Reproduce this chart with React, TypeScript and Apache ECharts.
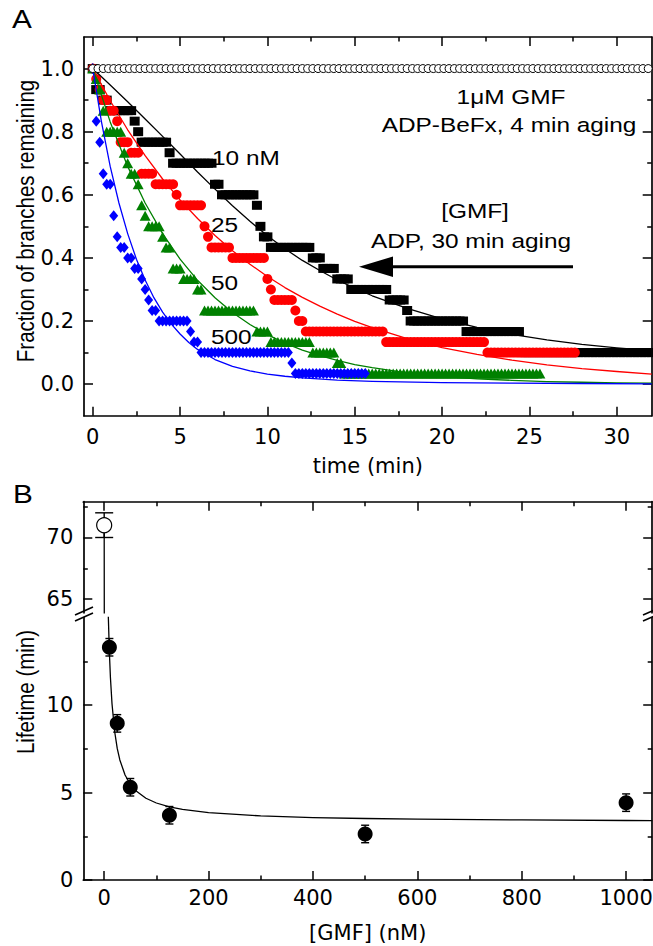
import React, { useEffect, useRef } from "react";
import * as echarts from "echarts";

// ---------------- Panel A data ----------------
const N_BRANCHES = 30;
const FRAME_MIN = 0.2; // GMF series frame interval (min)
const FRAME_MIN_BEFX = 0.3; // ADP-BeFx series frame interval (min)

// run-length lists: [branches remaining (of 30), number of consecutive frames]
const befx1uMRuns: number[][] = [[30, 107]];
const gmf10Runs: number[][] = [
  [30, 1], [28, 2], [27, 2], [26, 7], [25, 1], [24, 1], [23, 8], [22, 1], [21, 12],
  [19, 2], [18, 10], [17, 1], [15, 1], [14, 2], [13, 12], [12, 3], [11, 4], [10, 4],
  [9, 11], [8, 5], [7, 1], [6, 16], [5, 16], [3, 38],
];
const gmf25Runs: number[][] = [
  [30, 1], [29, 1], [28, 1], [27, 2], [26, 2], [25, 1], [23, 3], [22, 3], [20, 4],
  [19, 6], [18, 1], [17, 7], [15, 1], [14, 1], [13, 6], [12, 10], [10, 1], [9, 1],
  [8, 6], [7, 1], [6, 2], [5, 23], [4, 29], [3, 26],
];
const gmf50Runs: number[][] = [
  [30, 1], [29, 1], [28, 1], [26, 1], [24, 5], [22, 1], [21, 1], [20, 2], [19, 1],
  [17, 1], [16, 1], [15, 4], [14, 1], [13, 2], [11, 3], [10, 4], [9, 2], [7, 15],
  [5, 4], [4, 12], [3, 7], [2, 2], [1, 57],
];
const gmf500Runs: number[][] = [
  [30, 1], [25, 1], [23, 1], [20, 1], [19, 2], [16, 1], [14, 1], [13, 2], [12, 2],
  [11, 2], [10, 1], [9, 1], [8, 1], [7, 2], [6, 9], [5, 1], [4, 2], [3, 26], [2, 1], [1, 21],
];

// fitted curves
const fitTime10 = [0, 1, 2, 3, 4, 5, 6, 7, 8, 9, 10, 11, 12, 13, 14, 15, 16, 18, 20, 22, 24, 26, 28, 30, 32];
const fitFrac10 = [1.0, 0.948, 0.895, 0.84, 0.785, 0.729, 0.672, 0.618, 0.565, 0.516, 0.47, 0.429, 0.392, 0.36, 0.33, 0.304, 0.28, 0.24, 0.207, 0.18, 0.158, 0.14, 0.126, 0.115, 0.106];
const fitTime25 = [0, 1, 2, 3, 4, 5, 6, 7, 8, 9, 10, 11, 12, 13, 14, 15, 16, 18, 20, 22, 24, 26, 28, 30, 32];
const fitFrac25 = [1.0, 0.898, 0.806, 0.724, 0.65, 0.584, 0.525, 0.471, 0.423, 0.38, 0.341, 0.306, 0.275, 0.247, 0.222, 0.199, 0.179, 0.144, 0.116, 0.094, 0.076, 0.061, 0.049, 0.04, 0.032];
const fitTime50 = [0, 1, 2, 3, 4, 5, 6, 7, 8, 9, 10, 11, 12, 13, 14, 15, 16, 18, 20, 22, 24, 26, 28, 30, 32];
const fitFrac50 = [1.0, 0.831, 0.69, 0.574, 0.477, 0.396, 0.329, 0.274, 0.227, 0.189, 0.157, 0.13, 0.108, 0.09, 0.075, 0.062, 0.052, 0.036, 0.025, 0.017, 0.012, 0.008, 0.006, 0.004, 0.003];
const fitTime500 = [0, 0.5, 1, 1.5, 2, 2.5, 3, 3.5, 4, 4.5, 5, 5.5, 6, 7, 8, 9, 10, 11, 12, 14, 16, 20, 24, 28, 32];
const fitFrac500 = [1.0, 0.831, 0.69, 0.574, 0.477, 0.396, 0.33, 0.274, 0.228, 0.19, 0.159, 0.132, 0.11, 0.078, 0.056, 0.042, 0.032, 0.025, 0.02, 0.013, 0.009, 0.005, 0.003, 0.002, 0.001];

const xTicksA = [0, 5, 10, 15, 20, 25, 30];
const xMinorA = [2.5, 7.5, 12.5, 17.5, 22.5, 27.5];
const yTicksA = [0, 0.2, 0.4, 0.6, 0.8, 1.0];
const yMinorA = [0.1, 0.3, 0.5, 0.7, 0.9];

// ---------------- Panel B data ----------------
const gmfConc = [10, 25, 50, 125, 500, 1000];
const gmfLifetime = [13.3, 8.95, 5.3, 3.7, 2.63, 4.42];
const gmfLifetimeErr = [0.5, 0.5, 0.5, 0.5, 0.5, 0.5];
const befxConc = [0];
const befxLifetime = [71];
const befxLifetimeErr = [1];
const fitConc = [0, 0.25, 1, 2, 3, 5, 7, 8, 10, 12, 15, 20, 25, 30, 40, 50, 60, 80, 100, 125, 150, 200, 300, 400, 500, 600, 800, 1000, 1050];
const fitLifetime = [71.4, 62.5, 45.9, 34.2, 27.5, 20.2, 16.3, 15.0, 12.98, 11.56, 10.07, 8.5, 7.52, 6.86, 6.0, 5.47, 5.12, 4.67, 4.4, 4.18, 4.03, 3.85, 3.66, 3.57, 3.515, 3.48, 3.43, 3.4, 3.395];

const xTicksB = [0, 200, 400, 600, 800, 1000];
const xMinorB = [100, 300, 500, 700, 900];
const yTicksBLow = [0, 5, 10];
const yMinorBLow = [2.5, 7.5, 12.5];
const yTicksBHigh = [65, 70];
const yMinorBHigh = [67.5, 72.5];

// ---------------- helpers ----------------
function expandRuns(runs: number[][], dt: number): number[][] {
  const out: number[][] = [];
  let i = 0;
  for (const [k, n] of runs) {
    for (let j = 0; j < n; j++) {
      out.push([Math.round(i * dt * 1000) / 1000, k / N_BRANCHES]);
      i++;
    }
  }
  return out;
}
function zip(a: number[], b: number[]): number[][] {
  return a.map((v, i) => [v, b[i]]);
}

const LINE_STYLE = { color: "#000", width: 1.7 };
const TICK_STYLE = { color: "#000", width: 1.5 };
const TICK_FONT = { color: "#000", fontFamily: "DejaVu Sans", fontSize: 21 };
const MAJOR = 9;
const MINOR = 4.5;

type AxOpt = {
  grid: number; min: number; max: number; pos: string; ticks: number[]; len: number;
  line: boolean; labels?: boolean; margin?: number; fmt?: (v: number) => string;
  name?: string; nameGap?: number;
};
function mkAxis(o: AxOpt) {
  const ax: any = {
    type: "value",
    gridIndex: o.grid,
    min: o.min,
    max: o.max,
    position: o.pos,
    axisLine: { show: o.line, onZero: false, lineStyle: LINE_STYLE },
    axisTick: { show: true, inside: true, length: o.len, customValues: o.ticks, lineStyle: TICK_STYLE },
    axisLabel: o.labels
      ? { show: true, customValues: o.ticks, margin: o.margin, formatter: o.fmt, ...TICK_FONT }
      : { show: false },
    splitLine: { show: false },
    minorTick: { show: false },
    minorSplitLine: { show: false },
  };
  if (o.name) {
    ax.name = o.name;
    ax.nameLocation = "middle";
    ax.nameGap = o.nameGap;
    ax.nameTextStyle = { ...TICK_FONT };
  }
  return ax;
}

const errRender = (capHalf: number) => (params: any, api: any) => {
  const x = api.value(0);
  const lo = api.value(2);
  const hi = api.value(3);
  const a = api.coord([x, lo]);
  const b = api.coord([x, hi]);
  const st = { stroke: "#000", lineWidth: 1.4 };
  return {
    type: "group",
    children: [
      { type: "line", shape: { x1: a[0], y1: a[1], x2: b[0], y2: b[1] }, style: st },
      { type: "line", shape: { x1: a[0] - capHalf, y1: a[1], x2: a[0] + capHalf, y2: a[1] }, style: st },
      { type: "line", shape: { x1: b[0] - capHalf, y1: b[1], x2: b[0] + capHalf, y2: b[1] }, style: st },
    ],
  };
};

const SANS = "Liberation Sans";
const SX = 1.19;
function label(text: string, x: number, y: number, align: string, size = 20.5, extra: any = {}) {
  return {
    type: "text",
    x,
    y,
    z: 100,
    scaleX: SX,
    ...extra,
    style: {
      text,
      fill: "#000",
      fontSize: size,
      fontFamily: SANS,
      align,
      textAlign: align,
      verticalAlign: "middle",
      textVerticalAlign: "middle",
    },
  };
}
function vlabel(text: string, x: number, y: number) {
  return {
    type: "text",
    x,
    y,
    z: 100,
    rotation: Math.PI / 2,
    scaleY: SX,
    style: {
      text,
      fill: "#000",
      fontSize: 20.5,
      fontFamily: SANS,
      align: "center",
      textAlign: "center",
      verticalAlign: "middle",
      textVerticalAlign: "middle",
    },
  };
}
function seg(x1: number, y1: number, x2: number, y2: number, w = 1.5) {
  return { type: "line", z: 100, shape: { x1, y1, x2, y2 }, style: { stroke: "#000", lineWidth: w } };
}

function buildOption(): any {
  const fmt1 = (v: number) => v.toFixed(1);
  const fmt0 = (v: number) => String(Math.round(v));

  const grids = [
    { left: 84, right: 1.3, top: 37, bottom: 530.3, outerBoundsMode: "none", containLabel: false },
    { left: 83.3, right: 0.8, top: 501.7, bottom: 333.2, outerBoundsMode: "none", containLabel: false },
    { left: 83.3, right: 0.8, top: 617.5, bottom: 66, outerBoundsMode: "none", containLabel: false },
  ];

  const xAxis = [
    mkAxis({ grid: 0, min: -0.5, max: 32, pos: "bottom", ticks: xTicksA, len: MAJOR, line: true, labels: true, margin: 11, fmt: fmt0, name: "time (min)", nameGap: 40 }),
    mkAxis({ grid: 0, min: -0.5, max: 32, pos: "bottom", ticks: xMinorA, len: MINOR, line: false }),
    mkAxis({ grid: 0, min: -0.5, max: 32, pos: "top", ticks: xTicksA, len: MAJOR, line: true }),
    mkAxis({ grid: 0, min: -0.5, max: 32, pos: "top", ticks: xMinorA, len: MINOR, line: false }),
    mkAxis({ grid: 1, min: -40, max: 1050, pos: "top", ticks: xTicksB, len: MAJOR, line: true }),
    mkAxis({ grid: 1, min: -40, max: 1050, pos: "top", ticks: xMinorB, len: MINOR, line: false }),
    mkAxis({ grid: 2, min: -40, max: 1050, pos: "bottom", ticks: xTicksB, len: MAJOR, line: true, labels: true, margin: 7, fmt: fmt0, name: "[GMF] (nM)", nameGap: 42 }),
    mkAxis({ grid: 2, min: -40, max: 1050, pos: "bottom", ticks: xMinorB, len: MINOR, line: false }),
  ];

  const yAxis = [
    mkAxis({ grid: 0, min: -0.1, max: 1.1, pos: "left", ticks: yTicksA, len: MAJOR, line: true, labels: true, margin: 10, fmt: fmt1 }),
    mkAxis({ grid: 0, min: -0.1, max: 1.1, pos: "left", ticks: yMinorA, len: MINOR, line: false }),
    mkAxis({ grid: 0, min: -0.1, max: 1.1, pos: "right", ticks: yTicksA, len: MAJOR, line: true }),
    mkAxis({ grid: 0, min: -0.1, max: 1.1, pos: "right", ticks: yMinorA, len: MINOR, line: false }),
    mkAxis({ grid: 1, min: 63.9, max: 72.9, pos: "left", ticks: yTicksBHigh, len: MAJOR, line: true, labels: true, margin: 10, fmt: fmt0 }),
    mkAxis({ grid: 1, min: 63.9, max: 72.9, pos: "left", ticks: yMinorBHigh, len: MINOR, line: false }),
    mkAxis({ grid: 1, min: 63.9, max: 72.9, pos: "right", ticks: yTicksBHigh, len: MAJOR, line: true }),
    mkAxis({ grid: 1, min: 63.9, max: 72.9, pos: "right", ticks: yMinorBHigh, len: MINOR, line: false }),
    mkAxis({ grid: 2, min: 0, max: 15, pos: "left", ticks: yTicksBLow, len: MAJOR, line: true, labels: true, margin: 10, fmt: fmt0 }),
    mkAxis({ grid: 2, min: 0, max: 15, pos: "left", ticks: yMinorBLow, len: MINOR, line: false }),
    mkAxis({ grid: 2, min: 0, max: 15, pos: "right", ticks: yTicksBLow, len: MAJOR, line: true }),
    mkAxis({ grid: 2, min: 0, max: 15, pos: "right", ticks: yMinorBLow, len: MINOR, line: false }),
  ];

  const fitLine = (data: number[][], color: string, xi: number, yi: number) => ({
    type: "line",
    xAxisIndex: xi,
    yAxisIndex: yi,
    data,
    symbol: "none",
    showSymbol: false,
    smooth: false,
    clip: true,
    z: 5,
    silent: true,
    lineStyle: { color, width: 1.3, join: "round" },
  });
  const scat = (data: number[][], symbol: string, size: any, itemStyle: any, xi = 0, yi = 0, z = 3) => ({
    type: "scatter",
    xAxisIndex: xi,
    yAxisIndex: yi,
    data,
    symbol,
    symbolSize: size,
    itemStyle: { opacity: 1, ...itemStyle },
    clip: true,
    z,
    silent: true,
  });

  const series: any[] = [
    scat(expandRuns(gmf10Runs, FRAME_MIN), "rect", [10, 9], { color: "#000" }),
    scat(expandRuns(gmf25Runs, FRAME_MIN), "circle", 10, { color: "#ff0000" }),
    scat(expandRuns(gmf50Runs, FRAME_MIN), "triangle", [11, 10], { color: "#008000" }),
    scat(expandRuns(gmf500Runs, FRAME_MIN), "diamond", [9, 11], { color: "#0000ff" }),
    fitLine(zip(fitTime10, fitFrac10), "#000", 0, 0),
    fitLine(zip(fitTime25, fitFrac25), "#ff0000", 0, 0),
    fitLine(zip(fitTime50, fitFrac50), "#008000", 0, 0),
    fitLine(zip(fitTime500, fitFrac500), "#0000ff", 0, 0),
    scat(expandRuns(befx1uMRuns, FRAME_MIN_BEFX), "circle", 8, { color: "#fff", borderColor: "#000", borderWidth: 1 }, 0, 0, 6),
    // Panel B
    fitLine(zip(fitConc, fitLifetime), "#000", 4, 4),
    fitLine(zip(fitConc, fitLifetime), "#000", 6, 8),
    {
      type: "custom",
      xAxisIndex: 4,
      yAxisIndex: 4,
      renderItem: errRender(9),
      encode: { x: 0, y: [1, 2, 3] },
      data: befxConc.map((c, i) => [c, befxLifetime[i], befxLifetime[i] - befxLifetimeErr[i], befxLifetime[i] + befxLifetimeErr[i]]),
      z: 6,
      silent: true,
    },
    scat(zip(befxConc, befxLifetime), "circle", 15, { color: "#fff", borderColor: "#000", borderWidth: 1.2 }, 4, 4, 7),
    {
      type: "custom",
      xAxisIndex: 6,
      yAxisIndex: 8,
      renderItem: errRender(4),
      encode: { x: 0, y: [1, 2, 3] },
      data: gmfConc.map((c, i) => [c, gmfLifetime[i], gmfLifetime[i] - gmfLifetimeErr[i], gmfLifetime[i] + gmfLifetimeErr[i]]),
      z: 6,
      silent: true,
    },
    scat(zip(gmfConc, gmfLifetime), "circle", 15, { color: "#000" }, 6, 8, 7),
  ];

  const graphic = [
    label("A", 12, 19, "left", 25),
    label("B", 13, 494, "left", 25),
    vlabel("Fraction of branches remaining", 26, 221),
    vlabel("Lifetime (min)", 26, 692),
    label("1\u03bcM GMF", 511, 97, "center"),
    label("ADP-BeFx, 4 min aging", 509, 125, "center"),
    label("[GMF]", 475, 211, "center"),
    label("ADP, 30 min aging", 471, 241, "center"),
    label("10 nM", 212, 158, "left"),
    label("25", 211, 225, "left"),
    label("50", 211, 283, "left"),
    label("500", 211, 337, "left"),
    seg(573, 266.7, 390, 266.7, 3),
    { type: "polygon", z: 100, shape: { points: [[359, 266.7], [393, 256.5], [393, 277]] }, style: { fill: "#000" } },
    seg(75, 615, 93, 607),
    seg(75, 621, 93, 613),
    seg(643, 615, 661, 607),
    seg(643, 621, 661, 613),
  ];

  return {
    animation: false,
    backgroundColor: "#fff",
    textStyle: { fontFamily: "DejaVu Sans" },
    grid: grids,
    xAxis,
    yAxis,
    series,
    graphic,
  };
}

export default function App() {
  const ref = useRef<HTMLDivElement>(null);
  useEffect(() => {
    document.body.style.margin = "0";
    const chart = echarts.init(ref.current as HTMLDivElement, null, { renderer: "svg" });
    chart.setOption(buildOption());
    return () => chart.dispose();
  }, []);
  return (
    <div
      ref={ref}
      style={{ position: "absolute", left: 0, top: 0, width: 653, height: 946, background: "#fff" }}
    />
  );
}
